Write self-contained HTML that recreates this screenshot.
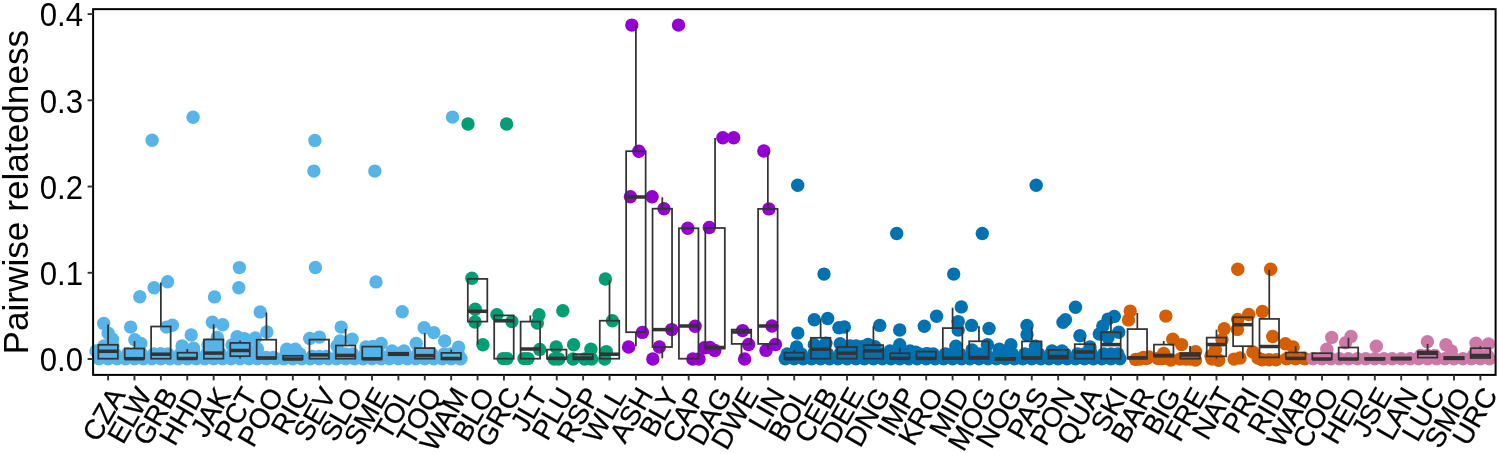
<!DOCTYPE html><html><head><meta charset="utf-8"><style>html,body{margin:0;padding:0;background:#fff;}svg{display:block;}text{font-family:"Liberation Sans",sans-serif;}svg{will-change:transform;}</style></head><body>
<svg width="1499" height="454" viewBox="0 0 1499 454">
<rect width="1499" height="454" fill="#fff"/>
<circle cx="99.1" cy="358.7" r="6.7" fill="#56B4E9"/>
<circle cx="108.1" cy="358.7" r="6.7" fill="#56B4E9"/>
<circle cx="117.1" cy="358.7" r="6.7" fill="#56B4E9"/>
<circle cx="101.1" cy="354.0" r="6.7" fill="#56B4E9"/>
<circle cx="108.1" cy="354.0" r="6.7" fill="#56B4E9"/>
<circle cx="115.1" cy="354.0" r="6.7" fill="#56B4E9"/>
<circle cx="125.5" cy="358.7" r="6.7" fill="#56B4E9"/>
<circle cx="134.5" cy="358.7" r="6.7" fill="#56B4E9"/>
<circle cx="143.5" cy="358.7" r="6.7" fill="#56B4E9"/>
<circle cx="127.5" cy="354.0" r="6.7" fill="#56B4E9"/>
<circle cx="134.5" cy="354.0" r="6.7" fill="#56B4E9"/>
<circle cx="141.5" cy="354.0" r="6.7" fill="#56B4E9"/>
<circle cx="151.9" cy="358.7" r="6.7" fill="#56B4E9"/>
<circle cx="160.9" cy="358.7" r="6.7" fill="#56B4E9"/>
<circle cx="169.9" cy="358.7" r="6.7" fill="#56B4E9"/>
<circle cx="153.9" cy="354.0" r="6.7" fill="#56B4E9"/>
<circle cx="160.9" cy="354.0" r="6.7" fill="#56B4E9"/>
<circle cx="167.9" cy="354.0" r="6.7" fill="#56B4E9"/>
<circle cx="178.3" cy="358.7" r="6.7" fill="#56B4E9"/>
<circle cx="187.3" cy="358.7" r="6.7" fill="#56B4E9"/>
<circle cx="196.3" cy="358.7" r="6.7" fill="#56B4E9"/>
<circle cx="180.3" cy="354.0" r="6.7" fill="#56B4E9"/>
<circle cx="187.3" cy="354.0" r="6.7" fill="#56B4E9"/>
<circle cx="194.3" cy="354.0" r="6.7" fill="#56B4E9"/>
<circle cx="204.7" cy="358.7" r="6.7" fill="#56B4E9"/>
<circle cx="213.7" cy="358.7" r="6.7" fill="#56B4E9"/>
<circle cx="222.7" cy="358.7" r="6.7" fill="#56B4E9"/>
<circle cx="206.7" cy="354.0" r="6.7" fill="#56B4E9"/>
<circle cx="213.7" cy="354.0" r="6.7" fill="#56B4E9"/>
<circle cx="220.7" cy="354.0" r="6.7" fill="#56B4E9"/>
<circle cx="231.0" cy="358.7" r="6.7" fill="#56B4E9"/>
<circle cx="240.0" cy="358.7" r="6.7" fill="#56B4E9"/>
<circle cx="249.0" cy="358.7" r="6.7" fill="#56B4E9"/>
<circle cx="233.0" cy="354.0" r="6.7" fill="#56B4E9"/>
<circle cx="240.0" cy="354.0" r="6.7" fill="#56B4E9"/>
<circle cx="247.0" cy="354.0" r="6.7" fill="#56B4E9"/>
<circle cx="257.4" cy="358.7" r="6.7" fill="#56B4E9"/>
<circle cx="266.4" cy="358.7" r="6.7" fill="#56B4E9"/>
<circle cx="275.4" cy="358.7" r="6.7" fill="#56B4E9"/>
<circle cx="259.4" cy="357.5" r="6.7" fill="#56B4E9"/>
<circle cx="266.4" cy="357.5" r="6.7" fill="#56B4E9"/>
<circle cx="273.4" cy="357.5" r="6.7" fill="#56B4E9"/>
<circle cx="283.8" cy="358.7" r="6.7" fill="#56B4E9"/>
<circle cx="292.8" cy="358.7" r="6.7" fill="#56B4E9"/>
<circle cx="301.8" cy="358.7" r="6.7" fill="#56B4E9"/>
<circle cx="285.8" cy="354.0" r="6.7" fill="#56B4E9"/>
<circle cx="292.8" cy="354.0" r="6.7" fill="#56B4E9"/>
<circle cx="299.8" cy="354.0" r="6.7" fill="#56B4E9"/>
<circle cx="310.2" cy="358.7" r="6.7" fill="#56B4E9"/>
<circle cx="319.2" cy="358.7" r="6.7" fill="#56B4E9"/>
<circle cx="328.2" cy="358.7" r="6.7" fill="#56B4E9"/>
<circle cx="312.2" cy="356.5" r="6.7" fill="#56B4E9"/>
<circle cx="319.2" cy="356.5" r="6.7" fill="#56B4E9"/>
<circle cx="326.2" cy="356.5" r="6.7" fill="#56B4E9"/>
<circle cx="336.6" cy="358.7" r="6.7" fill="#56B4E9"/>
<circle cx="345.6" cy="358.7" r="6.7" fill="#56B4E9"/>
<circle cx="354.6" cy="358.7" r="6.7" fill="#56B4E9"/>
<circle cx="338.6" cy="354.0" r="6.7" fill="#56B4E9"/>
<circle cx="345.6" cy="354.0" r="6.7" fill="#56B4E9"/>
<circle cx="352.6" cy="354.0" r="6.7" fill="#56B4E9"/>
<circle cx="363.0" cy="358.7" r="6.7" fill="#56B4E9"/>
<circle cx="372.0" cy="358.7" r="6.7" fill="#56B4E9"/>
<circle cx="381.0" cy="358.7" r="6.7" fill="#56B4E9"/>
<circle cx="365.0" cy="354.0" r="6.7" fill="#56B4E9"/>
<circle cx="372.0" cy="354.0" r="6.7" fill="#56B4E9"/>
<circle cx="379.0" cy="354.0" r="6.7" fill="#56B4E9"/>
<circle cx="389.4" cy="358.7" r="6.7" fill="#56B4E9"/>
<circle cx="398.4" cy="358.7" r="6.7" fill="#56B4E9"/>
<circle cx="407.4" cy="358.7" r="6.7" fill="#56B4E9"/>
<circle cx="391.4" cy="354.0" r="6.7" fill="#56B4E9"/>
<circle cx="398.4" cy="354.0" r="6.7" fill="#56B4E9"/>
<circle cx="405.4" cy="354.0" r="6.7" fill="#56B4E9"/>
<circle cx="415.8" cy="358.7" r="6.7" fill="#56B4E9"/>
<circle cx="424.8" cy="358.7" r="6.7" fill="#56B4E9"/>
<circle cx="433.8" cy="358.7" r="6.7" fill="#56B4E9"/>
<circle cx="417.8" cy="354.0" r="6.7" fill="#56B4E9"/>
<circle cx="424.8" cy="354.0" r="6.7" fill="#56B4E9"/>
<circle cx="431.8" cy="354.0" r="6.7" fill="#56B4E9"/>
<circle cx="442.2" cy="358.7" r="6.7" fill="#56B4E9"/>
<circle cx="451.2" cy="358.7" r="6.7" fill="#56B4E9"/>
<circle cx="460.2" cy="358.7" r="6.7" fill="#56B4E9"/>
<circle cx="444.2" cy="354.0" r="6.7" fill="#56B4E9"/>
<circle cx="451.2" cy="354.0" r="6.7" fill="#56B4E9"/>
<circle cx="458.2" cy="354.0" r="6.7" fill="#56B4E9"/>
<circle cx="785.2" cy="358.7" r="6.7" fill="#0072B2"/>
<circle cx="794.2" cy="358.7" r="6.7" fill="#0072B2"/>
<circle cx="803.2" cy="358.7" r="6.7" fill="#0072B2"/>
<circle cx="787.2" cy="354.0" r="6.7" fill="#0072B2"/>
<circle cx="794.2" cy="354.0" r="6.7" fill="#0072B2"/>
<circle cx="801.2" cy="354.0" r="6.7" fill="#0072B2"/>
<circle cx="811.6" cy="358.7" r="6.7" fill="#0072B2"/>
<circle cx="820.6" cy="358.7" r="6.7" fill="#0072B2"/>
<circle cx="829.6" cy="358.7" r="6.7" fill="#0072B2"/>
<circle cx="813.6" cy="354.0" r="6.7" fill="#0072B2"/>
<circle cx="820.6" cy="354.0" r="6.7" fill="#0072B2"/>
<circle cx="827.6" cy="354.0" r="6.7" fill="#0072B2"/>
<circle cx="838.0" cy="358.7" r="6.7" fill="#0072B2"/>
<circle cx="847.0" cy="358.7" r="6.7" fill="#0072B2"/>
<circle cx="856.0" cy="358.7" r="6.7" fill="#0072B2"/>
<circle cx="840.0" cy="354.0" r="6.7" fill="#0072B2"/>
<circle cx="847.0" cy="354.0" r="6.7" fill="#0072B2"/>
<circle cx="854.0" cy="354.0" r="6.7" fill="#0072B2"/>
<circle cx="864.4" cy="358.7" r="6.7" fill="#0072B2"/>
<circle cx="873.4" cy="358.7" r="6.7" fill="#0072B2"/>
<circle cx="882.4" cy="358.7" r="6.7" fill="#0072B2"/>
<circle cx="866.4" cy="354.0" r="6.7" fill="#0072B2"/>
<circle cx="873.4" cy="354.0" r="6.7" fill="#0072B2"/>
<circle cx="880.4" cy="354.0" r="6.7" fill="#0072B2"/>
<circle cx="890.8" cy="358.7" r="6.7" fill="#0072B2"/>
<circle cx="899.8" cy="358.7" r="6.7" fill="#0072B2"/>
<circle cx="908.8" cy="358.7" r="6.7" fill="#0072B2"/>
<circle cx="892.8" cy="354.0" r="6.7" fill="#0072B2"/>
<circle cx="899.8" cy="354.0" r="6.7" fill="#0072B2"/>
<circle cx="906.8" cy="354.0" r="6.7" fill="#0072B2"/>
<circle cx="917.2" cy="358.7" r="6.7" fill="#0072B2"/>
<circle cx="926.2" cy="358.7" r="6.7" fill="#0072B2"/>
<circle cx="935.2" cy="358.7" r="6.7" fill="#0072B2"/>
<circle cx="919.2" cy="354.0" r="6.7" fill="#0072B2"/>
<circle cx="926.2" cy="354.0" r="6.7" fill="#0072B2"/>
<circle cx="933.2" cy="354.0" r="6.7" fill="#0072B2"/>
<circle cx="943.6" cy="358.7" r="6.7" fill="#0072B2"/>
<circle cx="952.6" cy="358.7" r="6.7" fill="#0072B2"/>
<circle cx="961.6" cy="358.7" r="6.7" fill="#0072B2"/>
<circle cx="945.6" cy="354.0" r="6.7" fill="#0072B2"/>
<circle cx="952.6" cy="354.0" r="6.7" fill="#0072B2"/>
<circle cx="959.6" cy="354.0" r="6.7" fill="#0072B2"/>
<circle cx="970.0" cy="358.7" r="6.7" fill="#0072B2"/>
<circle cx="979.0" cy="358.7" r="6.7" fill="#0072B2"/>
<circle cx="988.0" cy="358.7" r="6.7" fill="#0072B2"/>
<circle cx="972.0" cy="354.0" r="6.7" fill="#0072B2"/>
<circle cx="979.0" cy="354.0" r="6.7" fill="#0072B2"/>
<circle cx="986.0" cy="354.0" r="6.7" fill="#0072B2"/>
<circle cx="996.4" cy="358.7" r="6.7" fill="#0072B2"/>
<circle cx="1005.4" cy="358.7" r="6.7" fill="#0072B2"/>
<circle cx="1014.4" cy="358.7" r="6.7" fill="#0072B2"/>
<circle cx="998.4" cy="354.0" r="6.7" fill="#0072B2"/>
<circle cx="1005.4" cy="354.0" r="6.7" fill="#0072B2"/>
<circle cx="1012.4" cy="354.0" r="6.7" fill="#0072B2"/>
<circle cx="1022.8" cy="358.7" r="6.7" fill="#0072B2"/>
<circle cx="1031.8" cy="358.7" r="6.7" fill="#0072B2"/>
<circle cx="1040.8" cy="358.7" r="6.7" fill="#0072B2"/>
<circle cx="1024.8" cy="354.0" r="6.7" fill="#0072B2"/>
<circle cx="1031.8" cy="354.0" r="6.7" fill="#0072B2"/>
<circle cx="1038.8" cy="354.0" r="6.7" fill="#0072B2"/>
<circle cx="1049.1" cy="358.7" r="6.7" fill="#0072B2"/>
<circle cx="1058.1" cy="358.7" r="6.7" fill="#0072B2"/>
<circle cx="1067.1" cy="358.7" r="6.7" fill="#0072B2"/>
<circle cx="1051.1" cy="354.0" r="6.7" fill="#0072B2"/>
<circle cx="1058.1" cy="354.0" r="6.7" fill="#0072B2"/>
<circle cx="1065.1" cy="354.0" r="6.7" fill="#0072B2"/>
<circle cx="1075.5" cy="358.7" r="6.7" fill="#0072B2"/>
<circle cx="1084.5" cy="358.7" r="6.7" fill="#0072B2"/>
<circle cx="1093.5" cy="358.7" r="6.7" fill="#0072B2"/>
<circle cx="1077.5" cy="354.0" r="6.7" fill="#0072B2"/>
<circle cx="1084.5" cy="354.0" r="6.7" fill="#0072B2"/>
<circle cx="1091.5" cy="354.0" r="6.7" fill="#0072B2"/>
<circle cx="1101.9" cy="358.7" r="6.7" fill="#0072B2"/>
<circle cx="1110.9" cy="358.7" r="6.7" fill="#0072B2"/>
<circle cx="1119.9" cy="358.7" r="6.7" fill="#0072B2"/>
<circle cx="1103.9" cy="354.0" r="6.7" fill="#0072B2"/>
<circle cx="1110.9" cy="354.0" r="6.7" fill="#0072B2"/>
<circle cx="1117.9" cy="354.0" r="6.7" fill="#0072B2"/>
<circle cx="1286.6" cy="358.7" r="6.7" fill="#D55E00"/>
<circle cx="1295.6" cy="358.7" r="6.7" fill="#D55E00"/>
<circle cx="1304.6" cy="358.7" r="6.7" fill="#D55E00"/>
<circle cx="1313.0" cy="358.7" r="6.7" fill="#CC79A7"/>
<circle cx="1322.0" cy="358.7" r="6.7" fill="#CC79A7"/>
<circle cx="1331.0" cy="358.7" r="6.7" fill="#CC79A7"/>
<circle cx="1339.4" cy="358.7" r="6.7" fill="#CC79A7"/>
<circle cx="1348.4" cy="358.7" r="6.7" fill="#CC79A7"/>
<circle cx="1357.4" cy="358.7" r="6.7" fill="#CC79A7"/>
<circle cx="1365.8" cy="358.7" r="6.7" fill="#CC79A7"/>
<circle cx="1374.8" cy="358.7" r="6.7" fill="#CC79A7"/>
<circle cx="1383.8" cy="358.7" r="6.7" fill="#CC79A7"/>
<circle cx="1392.2" cy="358.7" r="6.7" fill="#CC79A7"/>
<circle cx="1401.2" cy="358.7" r="6.7" fill="#CC79A7"/>
<circle cx="1410.2" cy="358.7" r="6.7" fill="#CC79A7"/>
<circle cx="1418.6" cy="358.7" r="6.7" fill="#CC79A7"/>
<circle cx="1427.6" cy="358.7" r="6.7" fill="#CC79A7"/>
<circle cx="1436.6" cy="358.7" r="6.7" fill="#CC79A7"/>
<circle cx="1420.6" cy="355.5" r="6.7" fill="#CC79A7"/>
<circle cx="1427.6" cy="355.5" r="6.7" fill="#CC79A7"/>
<circle cx="1434.6" cy="355.5" r="6.7" fill="#CC79A7"/>
<circle cx="1445.0" cy="358.7" r="6.7" fill="#CC79A7"/>
<circle cx="1454.0" cy="358.7" r="6.7" fill="#CC79A7"/>
<circle cx="1463.0" cy="358.7" r="6.7" fill="#CC79A7"/>
<circle cx="1471.4" cy="358.7" r="6.7" fill="#CC79A7"/>
<circle cx="1480.4" cy="358.7" r="6.7" fill="#CC79A7"/>
<circle cx="1489.4" cy="358.7" r="6.7" fill="#CC79A7"/>
<circle cx="1473.4" cy="355.5" r="6.7" fill="#CC79A7"/>
<circle cx="1480.4" cy="355.5" r="6.7" fill="#CC79A7"/>
<circle cx="1487.4" cy="355.5" r="6.7" fill="#CC79A7"/>
<circle cx="103.7" cy="323.5" r="6.7" fill="#56B4E9"/>
<circle cx="108.2" cy="333.2" r="6.7" fill="#56B4E9"/>
<circle cx="112.4" cy="339.2" r="6.7" fill="#56B4E9"/>
<circle cx="96.0" cy="351.0" r="6.7" fill="#56B4E9"/>
<circle cx="104.0" cy="346.0" r="6.7" fill="#56B4E9"/>
<circle cx="113.0" cy="346.0" r="6.7" fill="#56B4E9"/>
<circle cx="139.8" cy="296.8" r="6.7" fill="#56B4E9"/>
<circle cx="130.6" cy="327.1" r="6.7" fill="#56B4E9"/>
<circle cx="134.8" cy="339.8" r="6.7" fill="#56B4E9"/>
<circle cx="140.9" cy="343.5" r="6.7" fill="#56B4E9"/>
<circle cx="152.1" cy="140.3" r="6.7" fill="#56B4E9"/>
<circle cx="154.1" cy="287.7" r="6.7" fill="#56B4E9"/>
<circle cx="167.6" cy="281.7" r="6.7" fill="#56B4E9"/>
<circle cx="166.4" cy="327.1" r="6.7" fill="#56B4E9"/>
<circle cx="172.4" cy="325.3" r="6.7" fill="#56B4E9"/>
<circle cx="154.8" cy="354.4" r="6.7" fill="#56B4E9"/>
<circle cx="160.3" cy="354.0" r="6.7" fill="#56B4E9"/>
<circle cx="193.1" cy="117.2" r="6.7" fill="#56B4E9"/>
<circle cx="191.2" cy="335.0" r="6.7" fill="#56B4E9"/>
<circle cx="182.1" cy="345.9" r="6.7" fill="#56B4E9"/>
<circle cx="193.6" cy="348.3" r="6.7" fill="#56B4E9"/>
<circle cx="214.5" cy="296.9" r="6.7" fill="#56B4E9"/>
<circle cx="212.4" cy="322.3" r="6.7" fill="#56B4E9"/>
<circle cx="222.7" cy="324.7" r="6.7" fill="#56B4E9"/>
<circle cx="217.3" cy="337.4" r="6.7" fill="#56B4E9"/>
<circle cx="208.0" cy="345.0" r="6.7" fill="#56B4E9"/>
<circle cx="217.0" cy="344.0" r="6.7" fill="#56B4E9"/>
<circle cx="239.4" cy="267.6" r="6.7" fill="#56B4E9"/>
<circle cx="238.8" cy="287.8" r="6.7" fill="#56B4E9"/>
<circle cx="237.1" cy="336.8" r="6.7" fill="#56B4E9"/>
<circle cx="244.4" cy="338.6" r="6.7" fill="#56B4E9"/>
<circle cx="232.0" cy="345.0" r="6.7" fill="#56B4E9"/>
<circle cx="246.0" cy="346.0" r="6.7" fill="#56B4E9"/>
<circle cx="240.0" cy="350.0" r="6.7" fill="#56B4E9"/>
<circle cx="260.2" cy="311.9" r="6.7" fill="#56B4E9"/>
<circle cx="266.8" cy="332.0" r="6.7" fill="#56B4E9"/>
<circle cx="255.3" cy="338.0" r="6.7" fill="#56B4E9"/>
<circle cx="257.5" cy="349.0" r="6.7" fill="#56B4E9"/>
<circle cx="286.8" cy="349.2" r="6.7" fill="#56B4E9"/>
<circle cx="295.3" cy="349.2" r="6.7" fill="#56B4E9"/>
<circle cx="314.9" cy="140.4" r="6.7" fill="#56B4E9"/>
<circle cx="313.9" cy="171.1" r="6.7" fill="#56B4E9"/>
<circle cx="315.4" cy="267.5" r="6.7" fill="#56B4E9"/>
<circle cx="309.7" cy="338.5" r="6.7" fill="#56B4E9"/>
<circle cx="319.4" cy="337.1" r="6.7" fill="#56B4E9"/>
<circle cx="341.2" cy="327.1" r="6.7" fill="#56B4E9"/>
<circle cx="340.0" cy="341.0" r="6.7" fill="#56B4E9"/>
<circle cx="352.1" cy="339.2" r="6.7" fill="#56B4E9"/>
<circle cx="337.0" cy="346.0" r="6.7" fill="#56B4E9"/>
<circle cx="374.8" cy="171.1" r="6.7" fill="#56B4E9"/>
<circle cx="376.0" cy="281.9" r="6.7" fill="#56B4E9"/>
<circle cx="381.1" cy="343.5" r="6.7" fill="#56B4E9"/>
<circle cx="372.7" cy="346.5" r="6.7" fill="#56B4E9"/>
<circle cx="366.0" cy="347.0" r="6.7" fill="#56B4E9"/>
<circle cx="402.2" cy="311.8" r="6.7" fill="#56B4E9"/>
<circle cx="392.0" cy="351.0" r="6.7" fill="#56B4E9"/>
<circle cx="404.0" cy="351.0" r="6.7" fill="#56B4E9"/>
<circle cx="424.1" cy="327.7" r="6.7" fill="#56B4E9"/>
<circle cx="433.8" cy="332.6" r="6.7" fill="#56B4E9"/>
<circle cx="416.2" cy="343.5" r="6.7" fill="#56B4E9"/>
<circle cx="452.5" cy="117.1" r="6.7" fill="#56B4E9"/>
<circle cx="444.7" cy="341.0" r="6.7" fill="#56B4E9"/>
<circle cx="458.6" cy="347.1" r="6.7" fill="#56B4E9"/>
<circle cx="461.0" cy="358.5" r="6.7" fill="#56B4E9"/>
<circle cx="468.0" cy="124.0" r="6.7" fill="#009E73"/>
<circle cx="471.9" cy="278.2" r="6.7" fill="#009E73"/>
<circle cx="475.2" cy="309.3" r="6.7" fill="#009E73"/>
<circle cx="475.0" cy="322.0" r="6.7" fill="#009E73"/>
<circle cx="482.9" cy="344.8" r="6.7" fill="#009E73"/>
<circle cx="506.6" cy="124.0" r="6.7" fill="#009E73"/>
<circle cx="496.9" cy="314.7" r="6.7" fill="#009E73"/>
<circle cx="511.9" cy="321.6" r="6.7" fill="#009E73"/>
<circle cx="503.1" cy="358.6" r="6.7" fill="#009E73"/>
<circle cx="507.0" cy="358.6" r="6.7" fill="#009E73"/>
<circle cx="538.9" cy="314.7" r="6.7" fill="#009E73"/>
<circle cx="537.4" cy="323.1" r="6.7" fill="#009E73"/>
<circle cx="539.7" cy="349.4" r="6.7" fill="#009E73"/>
<circle cx="524.0" cy="358.6" r="6.7" fill="#009E73"/>
<circle cx="528.0" cy="358.6" r="6.7" fill="#009E73"/>
<circle cx="562.8" cy="310.8" r="6.7" fill="#009E73"/>
<circle cx="556.2" cy="347.0" r="6.7" fill="#009E73"/>
<circle cx="554.3" cy="359.0" r="6.7" fill="#009E73"/>
<circle cx="558.8" cy="359.0" r="6.7" fill="#009E73"/>
<circle cx="573.6" cy="344.7" r="6.7" fill="#009E73"/>
<circle cx="573.0" cy="359.0" r="6.7" fill="#009E73"/>
<circle cx="584.7" cy="359.0" r="6.7" fill="#009E73"/>
<circle cx="591.6" cy="359.0" r="6.7" fill="#009E73"/>
<circle cx="590.9" cy="349.3" r="6.7" fill="#009E73"/>
<circle cx="605.4" cy="279.0" r="6.7" fill="#009E73"/>
<circle cx="612.4" cy="320.8" r="6.7" fill="#009E73"/>
<circle cx="606.3" cy="351.6" r="6.7" fill="#009E73"/>
<circle cx="604.7" cy="359.0" r="6.7" fill="#009E73"/>
<circle cx="631.8" cy="25.1" r="6.7" fill="#9400D3"/>
<circle cx="638.8" cy="151.2" r="6.7" fill="#9400D3"/>
<circle cx="630.4" cy="196.8" r="6.7" fill="#9400D3"/>
<circle cx="642.4" cy="332.4" r="6.7" fill="#9400D3"/>
<circle cx="628.6" cy="347.0" r="6.7" fill="#9400D3"/>
<circle cx="652.1" cy="196.8" r="6.7" fill="#9400D3"/>
<circle cx="664.0" cy="208.7" r="6.7" fill="#9400D3"/>
<circle cx="671.7" cy="329.6" r="6.7" fill="#9400D3"/>
<circle cx="659.4" cy="347.0" r="6.7" fill="#9400D3"/>
<circle cx="652.8" cy="359.0" r="6.7" fill="#9400D3"/>
<circle cx="678.5" cy="25.1" r="6.7" fill="#9400D3"/>
<circle cx="687.8" cy="228.3" r="6.7" fill="#9400D3"/>
<circle cx="695.1" cy="326.2" r="6.7" fill="#9400D3"/>
<circle cx="692.8" cy="359.0" r="6.7" fill="#9400D3"/>
<circle cx="699.0" cy="359.0" r="6.7" fill="#9400D3"/>
<circle cx="709.3" cy="227.5" r="6.7" fill="#9400D3"/>
<circle cx="722.8" cy="137.8" r="6.7" fill="#9400D3"/>
<circle cx="709.9" cy="347.5" r="6.7" fill="#9400D3"/>
<circle cx="714.8" cy="350.4" r="6.7" fill="#9400D3"/>
<circle cx="704.4" cy="347.8" r="6.7" fill="#9400D3"/>
<circle cx="733.7" cy="137.8" r="6.7" fill="#9400D3"/>
<circle cx="742.6" cy="330.6" r="6.7" fill="#9400D3"/>
<circle cx="748.6" cy="344.5" r="6.7" fill="#9400D3"/>
<circle cx="744.6" cy="359.0" r="6.7" fill="#9400D3"/>
<circle cx="763.8" cy="151.0" r="6.7" fill="#9400D3"/>
<circle cx="768.9" cy="208.9" r="6.7" fill="#9400D3"/>
<circle cx="772.0" cy="326.0" r="6.7" fill="#9400D3"/>
<circle cx="775.4" cy="344.5" r="6.7" fill="#9400D3"/>
<circle cx="766.0" cy="350.4" r="6.7" fill="#9400D3"/>
<circle cx="797.7" cy="185.3" r="6.7" fill="#0072B2"/>
<circle cx="797.8" cy="333.1" r="6.7" fill="#0072B2"/>
<circle cx="796.6" cy="347.0" r="6.7" fill="#0072B2"/>
<circle cx="824.0" cy="274.1" r="6.7" fill="#0072B2"/>
<circle cx="814.3" cy="319.7" r="6.7" fill="#0072B2"/>
<circle cx="827.7" cy="318.5" r="6.7" fill="#0072B2"/>
<circle cx="814.3" cy="344.7" r="6.7" fill="#0072B2"/>
<circle cx="825.9" cy="343.2" r="6.7" fill="#0072B2"/>
<circle cx="838.9" cy="327.7" r="6.7" fill="#0072B2"/>
<circle cx="844.4" cy="327.0" r="6.7" fill="#0072B2"/>
<circle cx="840.2" cy="343.7" r="6.7" fill="#0072B2"/>
<circle cx="850.0" cy="346.0" r="6.7" fill="#0072B2"/>
<circle cx="856.0" cy="346.0" r="6.7" fill="#0072B2"/>
<circle cx="879.7" cy="325.4" r="6.7" fill="#0072B2"/>
<circle cx="868.0" cy="344.5" r="6.7" fill="#0072B2"/>
<circle cx="875.0" cy="346.7" r="6.7" fill="#0072B2"/>
<circle cx="862.0" cy="346.7" r="6.7" fill="#0072B2"/>
<circle cx="896.7" cy="233.5" r="6.7" fill="#0072B2"/>
<circle cx="899.7" cy="330.0" r="6.7" fill="#0072B2"/>
<circle cx="899.7" cy="344.7" r="6.7" fill="#0072B2"/>
<circle cx="890.0" cy="351.0" r="6.7" fill="#0072B2"/>
<circle cx="910.0" cy="351.0" r="6.7" fill="#0072B2"/>
<circle cx="924.3" cy="326.2" r="6.7" fill="#0072B2"/>
<circle cx="936.6" cy="316.2" r="6.7" fill="#0072B2"/>
<circle cx="915.8" cy="352.2" r="6.7" fill="#0072B2"/>
<circle cx="927.3" cy="353.7" r="6.7" fill="#0072B2"/>
<circle cx="953.7" cy="274.1" r="6.7" fill="#0072B2"/>
<circle cx="961.3" cy="306.9" r="6.7" fill="#0072B2"/>
<circle cx="958.2" cy="321.6" r="6.7" fill="#0072B2"/>
<circle cx="958.2" cy="330.1" r="6.7" fill="#0072B2"/>
<circle cx="955.9" cy="346.2" r="6.7" fill="#0072B2"/>
<circle cx="945.0" cy="354.5" r="6.7" fill="#0072B2"/>
<circle cx="982.3" cy="233.5" r="6.7" fill="#0072B2"/>
<circle cx="971.6" cy="325.4" r="6.7" fill="#0072B2"/>
<circle cx="989.0" cy="328.5" r="6.7" fill="#0072B2"/>
<circle cx="987.4" cy="344.7" r="6.7" fill="#0072B2"/>
<circle cx="972.0" cy="350.0" r="6.7" fill="#0072B2"/>
<circle cx="1010.9" cy="344.7" r="6.7" fill="#0072B2"/>
<circle cx="999.3" cy="349.3" r="6.7" fill="#0072B2"/>
<circle cx="1036.2" cy="185.2" r="6.7" fill="#0072B2"/>
<circle cx="1027.0" cy="325.4" r="6.7" fill="#0072B2"/>
<circle cx="1027.0" cy="334.7" r="6.7" fill="#0072B2"/>
<circle cx="1035.5" cy="346.2" r="6.7" fill="#0072B2"/>
<circle cx="1065.5" cy="319.8" r="6.7" fill="#0072B2"/>
<circle cx="1063.0" cy="322.2" r="6.7" fill="#0072B2"/>
<circle cx="1052.0" cy="351.0" r="6.7" fill="#0072B2"/>
<circle cx="1062.0" cy="351.0" r="6.7" fill="#0072B2"/>
<circle cx="1075.5" cy="307.3" r="6.7" fill="#0072B2"/>
<circle cx="1079.9" cy="335.8" r="6.7" fill="#0072B2"/>
<circle cx="1090.0" cy="347.0" r="6.7" fill="#0072B2"/>
<circle cx="1114.3" cy="316.4" r="6.7" fill="#0072B2"/>
<circle cx="1108.1" cy="319.1" r="6.7" fill="#0072B2"/>
<circle cx="1102.8" cy="326.1" r="6.7" fill="#0072B2"/>
<circle cx="1099.3" cy="334.0" r="6.7" fill="#0072B2"/>
<circle cx="1118.7" cy="332.3" r="6.7" fill="#0072B2"/>
<circle cx="1108.0" cy="337.5" r="6.7" fill="#0072B2"/>
<circle cx="1130.2" cy="311.1" r="6.7" fill="#D55E00"/>
<circle cx="1128.5" cy="319.9" r="6.7" fill="#D55E00"/>
<circle cx="1135.6" cy="359.4" r="6.7" fill="#D55E00"/>
<circle cx="1140.0" cy="359.0" r="6.7" fill="#D55E00"/>
<circle cx="1143.5" cy="357.4" r="6.7" fill="#D55E00"/>
<circle cx="1146.5" cy="358.5" r="6.7" fill="#D55E00"/>
<circle cx="1148.8" cy="357.0" r="6.7" fill="#D55E00"/>
<circle cx="1165.8" cy="316.1" r="6.7" fill="#D55E00"/>
<circle cx="1163.7" cy="353.4" r="6.7" fill="#D55E00"/>
<circle cx="1172.8" cy="339.3" r="6.7" fill="#D55E00"/>
<circle cx="1162.0" cy="358.5" r="6.7" fill="#D55E00"/>
<circle cx="1166.0" cy="358.0" r="6.7" fill="#D55E00"/>
<circle cx="1170.8" cy="360.0" r="6.7" fill="#D55E00"/>
<circle cx="1158.0" cy="358.5" r="6.7" fill="#D55E00"/>
<circle cx="1181.6" cy="344.6" r="6.7" fill="#D55E00"/>
<circle cx="1195.5" cy="351.6" r="6.7" fill="#D55E00"/>
<circle cx="1195.5" cy="360.0" r="6.7" fill="#D55E00"/>
<circle cx="1180.0" cy="359.0" r="6.7" fill="#D55E00"/>
<circle cx="1186.0" cy="359.0" r="6.7" fill="#D55E00"/>
<circle cx="1190.5" cy="359.0" r="6.7" fill="#D55E00"/>
<circle cx="1224.2" cy="328.8" r="6.7" fill="#D55E00"/>
<circle cx="1222.0" cy="339.8" r="6.7" fill="#D55E00"/>
<circle cx="1215.4" cy="349.7" r="6.7" fill="#D55E00"/>
<circle cx="1218.7" cy="360.2" r="6.7" fill="#D55E00"/>
<circle cx="1211.0" cy="356.0" r="6.7" fill="#D55E00"/>
<circle cx="1212.0" cy="359.0" r="6.7" fill="#D55E00"/>
<circle cx="1237.8" cy="269.3" r="6.7" fill="#D55E00"/>
<circle cx="1237.7" cy="319.4" r="6.7" fill="#D55E00"/>
<circle cx="1237.4" cy="329.4" r="6.7" fill="#D55E00"/>
<circle cx="1248.7" cy="314.5" r="6.7" fill="#D55E00"/>
<circle cx="1252.9" cy="351.9" r="6.7" fill="#D55E00"/>
<circle cx="1234.1" cy="359.1" r="6.7" fill="#D55E00"/>
<circle cx="1240.0" cy="358.0" r="6.7" fill="#D55E00"/>
<circle cx="1270.6" cy="269.3" r="6.7" fill="#D55E00"/>
<circle cx="1262.4" cy="311.5" r="6.7" fill="#D55E00"/>
<circle cx="1272.7" cy="336.5" r="6.7" fill="#D55E00"/>
<circle cx="1258.0" cy="358.0" r="6.7" fill="#D55E00"/>
<circle cx="1262.0" cy="359.7" r="6.7" fill="#D55E00"/>
<circle cx="1269.0" cy="359.7" r="6.7" fill="#D55E00"/>
<circle cx="1276.0" cy="359.7" r="6.7" fill="#D55E00"/>
<circle cx="1285.4" cy="343.7" r="6.7" fill="#D55E00"/>
<circle cx="1293.1" cy="347.0" r="6.7" fill="#D55E00"/>
<circle cx="1331.7" cy="337.4" r="6.7" fill="#CC79A7"/>
<circle cx="1326.8" cy="349.3" r="6.7" fill="#CC79A7"/>
<circle cx="1351.0" cy="336.4" r="6.7" fill="#CC79A7"/>
<circle cx="1345.6" cy="342.8" r="6.7" fill="#CC79A7"/>
<circle cx="1376.3" cy="346.2" r="6.7" fill="#CC79A7"/>
<circle cx="1427.4" cy="341.7" r="6.7" fill="#CC79A7"/>
<circle cx="1445.9" cy="344.7" r="6.7" fill="#CC79A7"/>
<circle cx="1451.3" cy="350.9" r="6.7" fill="#CC79A7"/>
<circle cx="1476.0" cy="343.2" r="6.7" fill="#CC79A7"/>
<circle cx="1488.4" cy="344.0" r="6.7" fill="#CC79A7"/>
<g stroke="#333333" stroke-width="1.75"><line x1="108.10" y1="324.4" x2="108.10" y2="344.8"/><rect x="98.35" y="344.8" width="19.50" height="13.9" fill="none"/></g>
<line x1="98.35" y1="351.3" x2="117.85" y2="351.3" stroke="#333333" stroke-width="3.5"/>
<g stroke="#333333" stroke-width="1.75"><line x1="134.49" y1="341.1" x2="134.49" y2="348.5"/><rect x="124.74" y="348.5" width="19.50" height="10.2" fill="none"/></g>
<line x1="124.74" y1="358.7" x2="144.24" y2="358.7" stroke="#333333" stroke-width="3.5"/>
<g stroke="#333333" stroke-width="1.75"><line x1="160.88" y1="282.5" x2="160.88" y2="326.5"/><rect x="151.13" y="326.5" width="19.50" height="32.2" fill="none"/></g>
<line x1="151.13" y1="354.2" x2="170.63" y2="354.2" stroke="#333333" stroke-width="3.5"/>
<g stroke="#333333" stroke-width="1.75"><line x1="187.27" y1="349.0" x2="187.27" y2="352.7"/><rect x="177.52" y="352.7" width="19.50" height="6.0" fill="none"/></g>
<line x1="177.52" y1="358.5" x2="197.02" y2="358.5" stroke="#333333" stroke-width="3.5"/>
<g stroke="#333333" stroke-width="1.75"><line x1="213.66" y1="324.3" x2="213.66" y2="339.5"/><rect x="203.91" y="339.5" width="19.50" height="19.2" fill="none"/></g>
<line x1="203.91" y1="353.1" x2="223.41" y2="353.1" stroke="#333333" stroke-width="3.5"/>
<g stroke="#333333" stroke-width="1.75"><line x1="240.05" y1="340.5" x2="240.05" y2="342.9"/><line x1="240.05" y1="356.2" x2="240.05" y2="358.6"/><rect x="230.30" y="342.9" width="19.50" height="13.3" fill="none"/></g>
<line x1="230.30" y1="350.5" x2="249.80" y2="350.5" stroke="#333333" stroke-width="3.5"/>
<g stroke="#333333" stroke-width="1.75"><line x1="266.44" y1="312.5" x2="266.44" y2="339.7"/><rect x="256.69" y="339.7" width="19.50" height="19.0" fill="none"/></g>
<line x1="256.69" y1="357.9" x2="276.19" y2="357.9" stroke="#333333" stroke-width="3.5"/>
<g stroke="#333333" stroke-width="1.75"><rect x="283.08" y="355.8" width="19.50" height="3.5" fill="none"/></g>
<line x1="283.08" y1="359.0" x2="302.58" y2="359.0" stroke="#333333" stroke-width="3.5"/>
<g stroke="#333333" stroke-width="1.75"><rect x="309.47" y="339.6" width="19.50" height="19.1" fill="none"/></g>
<line x1="309.47" y1="354.9" x2="328.97" y2="354.9" stroke="#333333" stroke-width="3.5"/>
<g stroke="#333333" stroke-width="1.75"><line x1="345.61" y1="328.9" x2="345.61" y2="345.5"/><rect x="335.86" y="345.5" width="19.50" height="13.2" fill="none"/></g>
<line x1="335.86" y1="355.4" x2="355.36" y2="355.4" stroke="#333333" stroke-width="3.5"/>
<g stroke="#333333" stroke-width="1.75"><rect x="362.25" y="346.6" width="19.50" height="12.7" fill="none"/></g>
<line x1="362.25" y1="358.8" x2="381.75" y2="358.8" stroke="#333333" stroke-width="3.5"/>
<g stroke="#333333" stroke-width="1.75"><rect x="388.64" y="352.8" width="19.50" height="2.4" fill="none"/></g>
<line x1="388.64" y1="354.0" x2="408.14" y2="354.0" stroke="#333333" stroke-width="3.5"/>
<g stroke="#333333" stroke-width="1.75"><line x1="424.78" y1="333.2" x2="424.78" y2="348.1"/><rect x="415.03" y="348.1" width="19.50" height="10.6" fill="none"/></g>
<line x1="415.03" y1="355.6" x2="434.53" y2="355.6" stroke="#333333" stroke-width="3.5"/>
<g stroke="#333333" stroke-width="1.75"><line x1="451.17" y1="349.7" x2="451.17" y2="352.9"/><rect x="441.42" y="352.9" width="19.50" height="6.4" fill="none"/></g>
<line x1="441.42" y1="358.5" x2="460.92" y2="358.5" stroke="#333333" stroke-width="3.5"/>
<g stroke="#333333" stroke-width="1.75"><line x1="477.56" y1="321.6" x2="477.56" y2="344.3"/><rect x="467.81" y="278.9" width="19.50" height="42.7" fill="none"/></g>
<line x1="467.81" y1="311.3" x2="487.31" y2="311.3" stroke="#333333" stroke-width="3.5"/>
<g stroke="#333333" stroke-width="1.75"><rect x="494.20" y="315.4" width="19.50" height="43.3" fill="none"/></g>
<line x1="494.20" y1="320.8" x2="513.70" y2="320.8" stroke="#333333" stroke-width="3.5"/>
<g stroke="#333333" stroke-width="1.75"><line x1="530.34" y1="315.4" x2="530.34" y2="321.6"/><rect x="520.59" y="321.6" width="19.50" height="37.1" fill="none"/></g>
<line x1="520.59" y1="349.0" x2="540.09" y2="349.0" stroke="#333333" stroke-width="3.5"/>
<g stroke="#333333" stroke-width="1.75"><rect x="546.98" y="349.6" width="19.50" height="9.1" fill="none"/></g>
<line x1="546.98" y1="358.4" x2="566.48" y2="358.4" stroke="#333333" stroke-width="3.5"/>
<g stroke="#333333" stroke-width="1.75"><rect x="573.37" y="354.2" width="19.50" height="5.1" fill="none"/></g>
<line x1="573.37" y1="358.0" x2="592.87" y2="358.0" stroke="#333333" stroke-width="3.5"/>
<g stroke="#333333" stroke-width="1.75"><line x1="609.51" y1="280.0" x2="609.51" y2="320.7"/><rect x="599.76" y="320.7" width="19.50" height="38.0" fill="none"/></g>
<line x1="599.76" y1="354.2" x2="619.26" y2="354.2" stroke="#333333" stroke-width="3.5"/>
<g stroke="#333333" stroke-width="1.75"><line x1="635.90" y1="25.4" x2="635.90" y2="151.2"/><line x1="635.90" y1="332.2" x2="635.90" y2="346.2"/><rect x="626.15" y="151.2" width="19.50" height="181.0" fill="none"/></g>
<line x1="626.15" y1="197.0" x2="645.65" y2="197.0" stroke="#333333" stroke-width="3.5"/>
<g stroke="#333333" stroke-width="1.75"><line x1="662.29" y1="197.3" x2="662.29" y2="208.7"/><line x1="662.29" y1="347.0" x2="662.29" y2="358.3"/><rect x="652.54" y="208.7" width="19.50" height="138.3" fill="none"/></g>
<line x1="652.54" y1="329.6" x2="672.04" y2="329.6" stroke="#333333" stroke-width="3.5"/>
<g stroke="#333333" stroke-width="1.75"><rect x="678.93" y="228.3" width="19.50" height="130.4" fill="none"/></g>
<line x1="678.93" y1="326.0" x2="698.43" y2="326.0" stroke="#333333" stroke-width="3.5"/>
<g stroke="#333333" stroke-width="1.75"><line x1="715.07" y1="138.1" x2="715.07" y2="228.0"/><rect x="705.32" y="228.0" width="19.50" height="120.5" fill="none"/></g>
<line x1="705.32" y1="347.5" x2="724.82" y2="347.5" stroke="#333333" stroke-width="3.5"/>
<g stroke="#333333" stroke-width="1.75"><line x1="741.46" y1="343.9" x2="741.46" y2="358.4"/><rect x="731.71" y="329.6" width="19.50" height="14.3" fill="none"/></g>
<line x1="731.71" y1="332.0" x2="751.21" y2="332.0" stroke="#333333" stroke-width="3.5"/>
<g stroke="#333333" stroke-width="1.75"><line x1="767.85" y1="151.5" x2="767.85" y2="208.9"/><line x1="767.85" y1="343.9" x2="767.85" y2="350.0"/><rect x="758.10" y="208.9" width="19.50" height="135.0" fill="none"/></g>
<line x1="758.10" y1="326.0" x2="777.60" y2="326.0" stroke="#333333" stroke-width="3.5"/>
<g stroke="#333333" stroke-width="1.75"><line x1="794.24" y1="350.1" x2="794.24" y2="352.7"/><rect x="784.49" y="352.7" width="19.50" height="6.4" fill="none"/></g>
<line x1="784.49" y1="358.6" x2="803.99" y2="358.6" stroke="#333333" stroke-width="3.5"/>
<g stroke="#333333" stroke-width="1.75"><line x1="820.63" y1="319.3" x2="820.63" y2="337.8"/><rect x="810.88" y="337.8" width="19.50" height="20.9" fill="none"/></g>
<line x1="810.88" y1="349.3" x2="830.38" y2="349.3" stroke="#333333" stroke-width="3.5"/>
<g stroke="#333333" stroke-width="1.75"><line x1="847.02" y1="329.3" x2="847.02" y2="347.0"/><rect x="837.27" y="347.0" width="19.50" height="11.7" fill="none"/></g>
<line x1="837.27" y1="353.2" x2="856.77" y2="353.2" stroke="#333333" stroke-width="3.5"/>
<g stroke="#333333" stroke-width="1.75"><line x1="873.41" y1="326.2" x2="873.41" y2="345.1"/><rect x="863.66" y="345.1" width="19.50" height="13.6" fill="none"/></g>
<line x1="863.66" y1="350.8" x2="883.16" y2="350.8" stroke="#333333" stroke-width="3.5"/>
<g stroke="#333333" stroke-width="1.75"><line x1="899.80" y1="347.8" x2="899.80" y2="353.2"/><rect x="890.05" y="353.2" width="19.50" height="5.5" fill="none"/></g>
<line x1="890.05" y1="358.4" x2="909.55" y2="358.4" stroke="#333333" stroke-width="3.5"/>
<g stroke="#333333" stroke-width="1.75"><line x1="926.19" y1="350.9" x2="926.19" y2="351.6"/><rect x="916.44" y="351.6" width="19.50" height="7.1" fill="none"/></g>
<line x1="916.44" y1="358.4" x2="935.94" y2="358.4" stroke="#333333" stroke-width="3.5"/>
<g stroke="#333333" stroke-width="1.75"><line x1="952.58" y1="307.7" x2="952.58" y2="328.1"/><rect x="942.83" y="328.1" width="19.50" height="30.6" fill="none"/></g>
<line x1="942.83" y1="358.2" x2="962.33" y2="358.2" stroke="#333333" stroke-width="3.5"/>
<g stroke="#333333" stroke-width="1.75"><line x1="978.97" y1="326.2" x2="978.97" y2="341.3"/><rect x="969.22" y="341.3" width="19.50" height="17.4" fill="none"/></g>
<line x1="969.22" y1="357.6" x2="988.72" y2="357.6" stroke="#333333" stroke-width="3.5"/>
<g stroke="#333333" stroke-width="1.75"><rect x="995.61" y="357.8" width="19.50" height="1.8" fill="none"/></g>
<line x1="995.61" y1="358.8" x2="1015.11" y2="358.8" stroke="#333333" stroke-width="3.5"/>
<g stroke="#333333" stroke-width="1.75"><line x1="1031.75" y1="327.2" x2="1031.75" y2="341.4"/><rect x="1022.00" y="341.4" width="19.50" height="17.3" fill="none"/></g>
<line x1="1022.00" y1="357.9" x2="1041.50" y2="357.9" stroke="#333333" stroke-width="3.5"/>
<g stroke="#333333" stroke-width="1.75"><rect x="1048.39" y="349.9" width="19.50" height="8.8" fill="none"/></g>
<line x1="1048.39" y1="356.6" x2="1067.89" y2="356.6" stroke="#333333" stroke-width="3.5"/>
<g stroke="#333333" stroke-width="1.75"><line x1="1084.53" y1="337.6" x2="1084.53" y2="344.2"/><rect x="1074.78" y="344.2" width="19.50" height="14.5" fill="none"/></g>
<line x1="1074.78" y1="352.0" x2="1094.28" y2="352.0" stroke="#333333" stroke-width="3.5"/>
<g stroke="#333333" stroke-width="1.75"><line x1="1110.92" y1="316.4" x2="1110.92" y2="332.3"/><rect x="1101.17" y="332.3" width="19.50" height="26.4" fill="none"/></g>
<line x1="1101.17" y1="344.6" x2="1120.67" y2="344.6" stroke="#333333" stroke-width="3.5"/>
<g stroke="#333333" stroke-width="1.75"><line x1="1137.31" y1="312.9" x2="1137.31" y2="329.1"/><rect x="1127.56" y="329.1" width="19.50" height="29.6" fill="none"/></g>
<line x1="1127.56" y1="357.8" x2="1147.06" y2="357.8" stroke="#333333" stroke-width="3.5"/>
<g stroke="#333333" stroke-width="1.75"><line x1="1163.70" y1="341.0" x2="1163.70" y2="344.6"/><rect x="1153.95" y="344.6" width="19.50" height="12.0" fill="none"/></g>
<line x1="1153.95" y1="355.5" x2="1173.45" y2="355.5" stroke="#333333" stroke-width="3.5"/>
<g stroke="#333333" stroke-width="1.75"><line x1="1190.09" y1="346.0" x2="1190.09" y2="353.0"/><rect x="1180.34" y="353.0" width="19.50" height="5.7" fill="none"/></g>
<line x1="1180.34" y1="355.0" x2="1199.84" y2="355.0" stroke="#333333" stroke-width="3.5"/>
<g stroke="#333333" stroke-width="1.75"><line x1="1216.48" y1="329.7" x2="1216.48" y2="337.6"/><line x1="1216.48" y1="356.4" x2="1216.48" y2="358.6"/><rect x="1206.73" y="337.6" width="19.50" height="18.8" fill="none"/></g>
<line x1="1206.73" y1="344.5" x2="1226.23" y2="344.5" stroke="#333333" stroke-width="3.5"/>
<g stroke="#333333" stroke-width="1.75"><line x1="1242.87" y1="346.2" x2="1242.87" y2="358.6"/><rect x="1233.12" y="317.3" width="19.50" height="28.9" fill="none"/></g>
<line x1="1233.12" y1="324.7" x2="1252.62" y2="324.7" stroke="#333333" stroke-width="3.5"/>
<g stroke="#333333" stroke-width="1.75"><line x1="1269.26" y1="269.8" x2="1269.26" y2="318.9"/><rect x="1259.51" y="318.9" width="19.50" height="38.5" fill="none"/></g>
<line x1="1259.51" y1="346.5" x2="1279.01" y2="346.5" stroke="#333333" stroke-width="3.5"/>
<g stroke="#333333" stroke-width="1.75"><line x1="1295.65" y1="346.2" x2="1295.65" y2="352.5"/><rect x="1285.90" y="352.5" width="19.50" height="6.2" fill="none"/></g>
<line x1="1285.90" y1="358.4" x2="1305.40" y2="358.4" stroke="#333333" stroke-width="3.5"/>
<g stroke="#333333" stroke-width="1.75"><rect x="1312.29" y="353.2" width="19.50" height="6.1" fill="none"/></g>
<line x1="1312.29" y1="359.0" x2="1331.79" y2="359.0" stroke="#333333" stroke-width="3.5"/>
<g stroke="#333333" stroke-width="1.75"><line x1="1348.43" y1="337.8" x2="1348.43" y2="347.5"/><rect x="1338.68" y="347.5" width="19.50" height="11.8" fill="none"/></g>
<line x1="1338.68" y1="359.0" x2="1358.18" y2="359.0" stroke="#333333" stroke-width="3.5"/>
<g stroke="#333333" stroke-width="1.75"><rect x="1365.07" y="358.0" width="19.50" height="1.5" fill="none"/></g>
<line x1="1365.07" y1="359.0" x2="1384.57" y2="359.0" stroke="#333333" stroke-width="3.5"/>
<g stroke="#333333" stroke-width="1.75"><rect x="1391.46" y="357.5" width="19.50" height="2.0" fill="none"/></g>
<line x1="1391.46" y1="358.6" x2="1410.96" y2="358.6" stroke="#333333" stroke-width="3.5"/>
<g stroke="#333333" stroke-width="1.75"><line x1="1427.60" y1="344.0" x2="1427.60" y2="351.6"/><rect x="1417.85" y="351.6" width="19.50" height="6.0" fill="none"/></g>
<line x1="1417.85" y1="353.3" x2="1437.35" y2="353.3" stroke="#333333" stroke-width="3.5"/>
<g stroke="#333333" stroke-width="1.75"><rect x="1444.24" y="357.0" width="19.50" height="2.3" fill="none"/></g>
<line x1="1444.24" y1="358.0" x2="1463.74" y2="358.0" stroke="#333333" stroke-width="3.5"/>
<g stroke="#333333" stroke-width="1.75"><line x1="1480.38" y1="346.1" x2="1480.38" y2="348.2"/><rect x="1470.63" y="348.2" width="19.50" height="9.8" fill="none"/></g>
<line x1="1470.63" y1="355.5" x2="1490.13" y2="355.5" stroke="#333333" stroke-width="3.5"/>
<rect x="93.1" y="9.15" width="1402.5" height="365.75" fill="none" stroke="#000" stroke-width="2"/>
<line x1="87.6" y1="359.00" x2="93.1" y2="359.00" stroke="#333333" stroke-width="1.9"/>
<text transform="translate(83.0,359.00) scale(0.975,1.03)" y="12.0" font-size="32" text-anchor="end" fill="#000" stroke="#000" stroke-width="0">0.0</text>
<line x1="87.6" y1="272.77" x2="93.1" y2="272.77" stroke="#333333" stroke-width="1.9"/>
<text transform="translate(83.0,272.77) scale(0.975,1.03)" y="12.0" font-size="32" text-anchor="end" fill="#000" stroke="#000" stroke-width="0">0.1</text>
<line x1="87.6" y1="186.54" x2="93.1" y2="186.54" stroke="#333333" stroke-width="1.9"/>
<text transform="translate(83.0,186.54) scale(0.975,1.03)" y="12.0" font-size="32" text-anchor="end" fill="#000" stroke="#000" stroke-width="0">0.2</text>
<line x1="87.6" y1="100.31" x2="93.1" y2="100.31" stroke="#333333" stroke-width="1.9"/>
<text transform="translate(83.0,100.31) scale(0.975,1.03)" y="12.0" font-size="32" text-anchor="end" fill="#000" stroke="#000" stroke-width="0">0.3</text>
<line x1="87.6" y1="14.08" x2="93.1" y2="14.08" stroke="#333333" stroke-width="1.9"/>
<text transform="translate(83.0,14.08) scale(0.975,1.03)" y="12.0" font-size="32" text-anchor="end" fill="#000" stroke="#000" stroke-width="0">0.4</text>
<line x1="108.10" y1="374.9" x2="108.10" y2="380.4" stroke="#333333" stroke-width="1.9"/>
<text transform="translate(126.00,394.80) rotate(-60)" font-size="28" text-anchor="end" fill="#000" stroke="#000" stroke-width="0.25">CZA</text>
<line x1="134.49" y1="374.9" x2="134.49" y2="380.4" stroke="#333333" stroke-width="1.9"/>
<text transform="translate(152.39,394.80) rotate(-60)" font-size="28" text-anchor="end" fill="#000" stroke="#000" stroke-width="0.25">ELW</text>
<line x1="160.88" y1="374.9" x2="160.88" y2="380.4" stroke="#333333" stroke-width="1.9"/>
<text transform="translate(178.78,394.80) rotate(-60)" font-size="28" text-anchor="end" fill="#000" stroke="#000" stroke-width="0.25">GRB</text>
<line x1="187.27" y1="374.9" x2="187.27" y2="380.4" stroke="#333333" stroke-width="1.9"/>
<text transform="translate(205.17,394.80) rotate(-60)" font-size="28" text-anchor="end" fill="#000" stroke="#000" stroke-width="0.25">HHD</text>
<line x1="213.66" y1="374.9" x2="213.66" y2="380.4" stroke="#333333" stroke-width="1.9"/>
<text transform="translate(231.56,394.80) rotate(-60)" font-size="28" text-anchor="end" fill="#000" stroke="#000" stroke-width="0.25">JAK</text>
<line x1="240.05" y1="374.9" x2="240.05" y2="380.4" stroke="#333333" stroke-width="1.9"/>
<text transform="translate(257.95,394.80) rotate(-60)" font-size="28" text-anchor="end" fill="#000" stroke="#000" stroke-width="0.25">PCT</text>
<line x1="266.44" y1="374.9" x2="266.44" y2="380.4" stroke="#333333" stroke-width="1.9"/>
<text transform="translate(284.34,394.80) rotate(-60)" font-size="28" text-anchor="end" fill="#000" stroke="#000" stroke-width="0.25">POO</text>
<line x1="292.83" y1="374.9" x2="292.83" y2="380.4" stroke="#333333" stroke-width="1.9"/>
<text transform="translate(310.73,394.80) rotate(-60)" font-size="28" text-anchor="end" fill="#000" stroke="#000" stroke-width="0.25">RIC</text>
<line x1="319.22" y1="374.9" x2="319.22" y2="380.4" stroke="#333333" stroke-width="1.9"/>
<text transform="translate(337.12,394.80) rotate(-60)" font-size="28" text-anchor="end" fill="#000" stroke="#000" stroke-width="0.25">SEV</text>
<line x1="345.61" y1="374.9" x2="345.61" y2="380.4" stroke="#333333" stroke-width="1.9"/>
<text transform="translate(363.51,394.80) rotate(-60)" font-size="28" text-anchor="end" fill="#000" stroke="#000" stroke-width="0.25">SLO</text>
<line x1="372.00" y1="374.9" x2="372.00" y2="380.4" stroke="#333333" stroke-width="1.9"/>
<text transform="translate(389.90,394.80) rotate(-60)" font-size="28" text-anchor="end" fill="#000" stroke="#000" stroke-width="0.25">SME</text>
<line x1="398.39" y1="374.9" x2="398.39" y2="380.4" stroke="#333333" stroke-width="1.9"/>
<text transform="translate(416.29,394.80) rotate(-60)" font-size="28" text-anchor="end" fill="#000" stroke="#000" stroke-width="0.25">TOL</text>
<line x1="424.78" y1="374.9" x2="424.78" y2="380.4" stroke="#333333" stroke-width="1.9"/>
<text transform="translate(442.68,394.80) rotate(-60)" font-size="28" text-anchor="end" fill="#000" stroke="#000" stroke-width="0.25">TOQ</text>
<line x1="451.17" y1="374.9" x2="451.17" y2="380.4" stroke="#333333" stroke-width="1.9"/>
<text transform="translate(469.07,394.80) rotate(-60)" font-size="28" text-anchor="end" fill="#000" stroke="#000" stroke-width="0.25">WAM</text>
<line x1="477.56" y1="374.9" x2="477.56" y2="380.4" stroke="#333333" stroke-width="1.9"/>
<text transform="translate(495.46,394.80) rotate(-60)" font-size="28" text-anchor="end" fill="#000" stroke="#000" stroke-width="0.25">BLO</text>
<line x1="503.95" y1="374.9" x2="503.95" y2="380.4" stroke="#333333" stroke-width="1.9"/>
<text transform="translate(521.85,394.80) rotate(-60)" font-size="28" text-anchor="end" fill="#000" stroke="#000" stroke-width="0.25">GRC</text>
<line x1="530.34" y1="374.9" x2="530.34" y2="380.4" stroke="#333333" stroke-width="1.9"/>
<text transform="translate(548.24,394.80) rotate(-60)" font-size="28" text-anchor="end" fill="#000" stroke="#000" stroke-width="0.25">JLT</text>
<line x1="556.73" y1="374.9" x2="556.73" y2="380.4" stroke="#333333" stroke-width="1.9"/>
<text transform="translate(574.63,394.80) rotate(-60)" font-size="28" text-anchor="end" fill="#000" stroke="#000" stroke-width="0.25">PLU</text>
<line x1="583.12" y1="374.9" x2="583.12" y2="380.4" stroke="#333333" stroke-width="1.9"/>
<text transform="translate(601.02,394.80) rotate(-60)" font-size="28" text-anchor="end" fill="#000" stroke="#000" stroke-width="0.25">RSP</text>
<line x1="609.51" y1="374.9" x2="609.51" y2="380.4" stroke="#333333" stroke-width="1.9"/>
<text transform="translate(627.41,394.80) rotate(-60)" font-size="28" text-anchor="end" fill="#000" stroke="#000" stroke-width="0.25">WLL</text>
<line x1="635.90" y1="374.9" x2="635.90" y2="380.4" stroke="#333333" stroke-width="1.9"/>
<text transform="translate(653.80,394.80) rotate(-60)" font-size="28" text-anchor="end" fill="#000" stroke="#000" stroke-width="0.25">ASH</text>
<line x1="662.29" y1="374.9" x2="662.29" y2="380.4" stroke="#333333" stroke-width="1.9"/>
<text transform="translate(680.19,394.80) rotate(-60)" font-size="28" text-anchor="end" fill="#000" stroke="#000" stroke-width="0.25">BLY</text>
<line x1="688.68" y1="374.9" x2="688.68" y2="380.4" stroke="#333333" stroke-width="1.9"/>
<text transform="translate(706.58,394.80) rotate(-60)" font-size="28" text-anchor="end" fill="#000" stroke="#000" stroke-width="0.25">CAP</text>
<line x1="715.07" y1="374.9" x2="715.07" y2="380.4" stroke="#333333" stroke-width="1.9"/>
<text transform="translate(732.97,394.80) rotate(-60)" font-size="28" text-anchor="end" fill="#000" stroke="#000" stroke-width="0.25">DAG</text>
<line x1="741.46" y1="374.9" x2="741.46" y2="380.4" stroke="#333333" stroke-width="1.9"/>
<text transform="translate(759.36,394.80) rotate(-60)" font-size="28" text-anchor="end" fill="#000" stroke="#000" stroke-width="0.25">DWE</text>
<line x1="767.85" y1="374.9" x2="767.85" y2="380.4" stroke="#333333" stroke-width="1.9"/>
<text transform="translate(785.75,394.80) rotate(-60)" font-size="28" text-anchor="end" fill="#000" stroke="#000" stroke-width="0.25">LIN</text>
<line x1="794.24" y1="374.9" x2="794.24" y2="380.4" stroke="#333333" stroke-width="1.9"/>
<text transform="translate(812.14,394.80) rotate(-60)" font-size="28" text-anchor="end" fill="#000" stroke="#000" stroke-width="0.25">BOL</text>
<line x1="820.63" y1="374.9" x2="820.63" y2="380.4" stroke="#333333" stroke-width="1.9"/>
<text transform="translate(838.53,394.80) rotate(-60)" font-size="28" text-anchor="end" fill="#000" stroke="#000" stroke-width="0.25">CEB</text>
<line x1="847.02" y1="374.9" x2="847.02" y2="380.4" stroke="#333333" stroke-width="1.9"/>
<text transform="translate(864.92,394.80) rotate(-60)" font-size="28" text-anchor="end" fill="#000" stroke="#000" stroke-width="0.25">DEE</text>
<line x1="873.41" y1="374.9" x2="873.41" y2="380.4" stroke="#333333" stroke-width="1.9"/>
<text transform="translate(891.31,394.80) rotate(-60)" font-size="28" text-anchor="end" fill="#000" stroke="#000" stroke-width="0.25">DNG</text>
<line x1="899.80" y1="374.9" x2="899.80" y2="380.4" stroke="#333333" stroke-width="1.9"/>
<text transform="translate(917.70,394.80) rotate(-60)" font-size="28" text-anchor="end" fill="#000" stroke="#000" stroke-width="0.25">IMP</text>
<line x1="926.19" y1="374.9" x2="926.19" y2="380.4" stroke="#333333" stroke-width="1.9"/>
<text transform="translate(944.09,394.80) rotate(-60)" font-size="28" text-anchor="end" fill="#000" stroke="#000" stroke-width="0.25">KRO</text>
<line x1="952.58" y1="374.9" x2="952.58" y2="380.4" stroke="#333333" stroke-width="1.9"/>
<text transform="translate(970.48,394.80) rotate(-60)" font-size="28" text-anchor="end" fill="#000" stroke="#000" stroke-width="0.25">MID</text>
<line x1="978.97" y1="374.9" x2="978.97" y2="380.4" stroke="#333333" stroke-width="1.9"/>
<text transform="translate(996.87,394.80) rotate(-60)" font-size="28" text-anchor="end" fill="#000" stroke="#000" stroke-width="0.25">MOG</text>
<line x1="1005.36" y1="374.9" x2="1005.36" y2="380.4" stroke="#333333" stroke-width="1.9"/>
<text transform="translate(1023.26,394.80) rotate(-60)" font-size="28" text-anchor="end" fill="#000" stroke="#000" stroke-width="0.25">NOG</text>
<line x1="1031.75" y1="374.9" x2="1031.75" y2="380.4" stroke="#333333" stroke-width="1.9"/>
<text transform="translate(1049.65,394.80) rotate(-60)" font-size="28" text-anchor="end" fill="#000" stroke="#000" stroke-width="0.25">PAS</text>
<line x1="1058.14" y1="374.9" x2="1058.14" y2="380.4" stroke="#333333" stroke-width="1.9"/>
<text transform="translate(1076.04,394.80) rotate(-60)" font-size="28" text-anchor="end" fill="#000" stroke="#000" stroke-width="0.25">PON</text>
<line x1="1084.53" y1="374.9" x2="1084.53" y2="380.4" stroke="#333333" stroke-width="1.9"/>
<text transform="translate(1102.43,394.80) rotate(-60)" font-size="28" text-anchor="end" fill="#000" stroke="#000" stroke-width="0.25">QUA</text>
<line x1="1110.92" y1="374.9" x2="1110.92" y2="380.4" stroke="#333333" stroke-width="1.9"/>
<text transform="translate(1128.82,394.80) rotate(-60)" font-size="28" text-anchor="end" fill="#000" stroke="#000" stroke-width="0.25">SKI</text>
<line x1="1137.31" y1="374.9" x2="1137.31" y2="380.4" stroke="#333333" stroke-width="1.9"/>
<text transform="translate(1155.21,394.80) rotate(-60)" font-size="28" text-anchor="end" fill="#000" stroke="#000" stroke-width="0.25">BAR</text>
<line x1="1163.70" y1="374.9" x2="1163.70" y2="380.4" stroke="#333333" stroke-width="1.9"/>
<text transform="translate(1181.60,394.80) rotate(-60)" font-size="28" text-anchor="end" fill="#000" stroke="#000" stroke-width="0.25">BIG</text>
<line x1="1190.09" y1="374.9" x2="1190.09" y2="380.4" stroke="#333333" stroke-width="1.9"/>
<text transform="translate(1207.99,394.80) rotate(-60)" font-size="28" text-anchor="end" fill="#000" stroke="#000" stroke-width="0.25">FRE</text>
<line x1="1216.48" y1="374.9" x2="1216.48" y2="380.4" stroke="#333333" stroke-width="1.9"/>
<text transform="translate(1234.38,394.80) rotate(-60)" font-size="28" text-anchor="end" fill="#000" stroke="#000" stroke-width="0.25">NAT</text>
<line x1="1242.87" y1="374.9" x2="1242.87" y2="380.4" stroke="#333333" stroke-width="1.9"/>
<text transform="translate(1260.77,394.80) rotate(-60)" font-size="28" text-anchor="end" fill="#000" stroke="#000" stroke-width="0.25">PRI</text>
<line x1="1269.26" y1="374.9" x2="1269.26" y2="380.4" stroke="#333333" stroke-width="1.9"/>
<text transform="translate(1287.16,394.80) rotate(-60)" font-size="28" text-anchor="end" fill="#000" stroke="#000" stroke-width="0.25">RID</text>
<line x1="1295.65" y1="374.9" x2="1295.65" y2="380.4" stroke="#333333" stroke-width="1.9"/>
<text transform="translate(1313.55,394.80) rotate(-60)" font-size="28" text-anchor="end" fill="#000" stroke="#000" stroke-width="0.25">WAB</text>
<line x1="1322.04" y1="374.9" x2="1322.04" y2="380.4" stroke="#333333" stroke-width="1.9"/>
<text transform="translate(1339.94,394.80) rotate(-60)" font-size="28" text-anchor="end" fill="#000" stroke="#000" stroke-width="0.25">COO</text>
<line x1="1348.43" y1="374.9" x2="1348.43" y2="380.4" stroke="#333333" stroke-width="1.9"/>
<text transform="translate(1366.33,394.80) rotate(-60)" font-size="28" text-anchor="end" fill="#000" stroke="#000" stroke-width="0.25">HED</text>
<line x1="1374.82" y1="374.9" x2="1374.82" y2="380.4" stroke="#333333" stroke-width="1.9"/>
<text transform="translate(1392.72,394.80) rotate(-60)" font-size="28" text-anchor="end" fill="#000" stroke="#000" stroke-width="0.25">JSE</text>
<line x1="1401.21" y1="374.9" x2="1401.21" y2="380.4" stroke="#333333" stroke-width="1.9"/>
<text transform="translate(1419.11,394.80) rotate(-60)" font-size="28" text-anchor="end" fill="#000" stroke="#000" stroke-width="0.25">LAN</text>
<line x1="1427.60" y1="374.9" x2="1427.60" y2="380.4" stroke="#333333" stroke-width="1.9"/>
<text transform="translate(1445.50,394.80) rotate(-60)" font-size="28" text-anchor="end" fill="#000" stroke="#000" stroke-width="0.25">LUC</text>
<line x1="1453.99" y1="374.9" x2="1453.99" y2="380.4" stroke="#333333" stroke-width="1.9"/>
<text transform="translate(1471.89,394.80) rotate(-60)" font-size="28" text-anchor="end" fill="#000" stroke="#000" stroke-width="0.25">SMO</text>
<line x1="1480.38" y1="374.9" x2="1480.38" y2="380.4" stroke="#333333" stroke-width="1.9"/>
<text transform="translate(1498.28,394.80) rotate(-60)" font-size="28" text-anchor="end" fill="#000" stroke="#000" stroke-width="0.25">URC</text>
<text transform="translate(27.8,192.2) rotate(-90) scale(1,1.02)" font-size="35.2" text-anchor="middle" fill="#000" stroke="#000" stroke-width="0">Pairwise relatedness</text>
</svg></body></html>
